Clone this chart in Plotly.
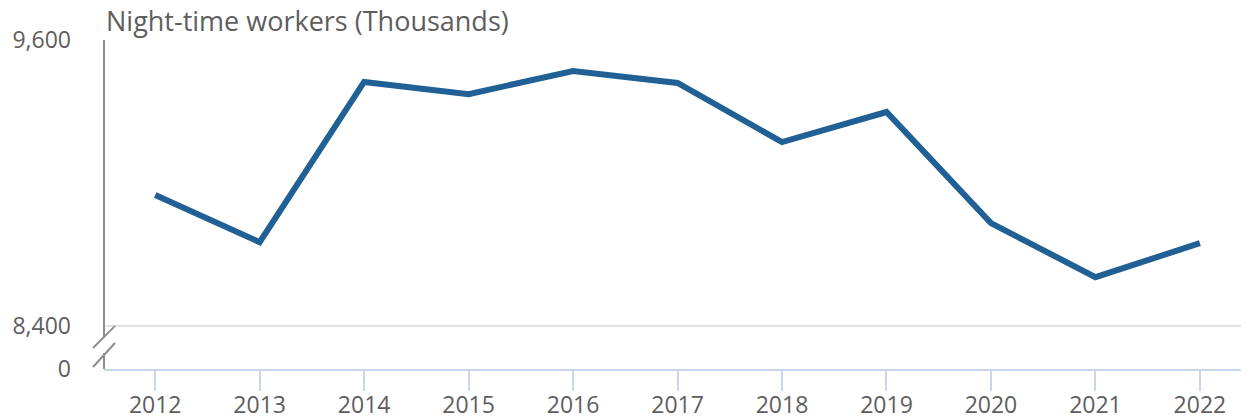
import plotly.graph_objects as go

# Night-time workers, thousands
years = [2012, 2013, 2014, 2015, 2016, 2017, 2018, 2019, 2020, 2021, 2022]
workers = [8950, 8752, 9424, 9373, 9470, 9420, 9172, 9298, 8832, 8605, 8748]

y_tickvals = [8220, 8400, 9600]
y_ticktext = ["0", "8,400", "9,600"]

TEXT = "#5e5e5e"
AXIS_GREY = "#8e8e8e"
AXIS_BLUE = "#c8d5ec"
LINE_BLUE = "#206095"

fig = go.Figure()
fig.add_trace(go.Scatter(x=years, y=workers, mode="lines",
                         line=dict(color=LINE_BLUE, width=6),
                         hovertemplate="%{x}: %{y:,}<extra></extra>"))

# broken y axis drawn by hand (paper coords)
axis_shapes = [
    dict(x0=0, x1=0, y0=0.094, y1=1),
    dict(x0=0, x1=0, y0=0, y1=0.049),
    dict(x0=-0.0096, x1=0.0096, y0=0.064, y1=0.131),
    dict(x0=-0.0096, x1=0.0096, y0=0.006, y1=0.079),
]
for s in axis_shapes:
    fig.add_shape(type="line", xref="paper", yref="paper",
                  line=dict(color=AXIS_GREY, width=2), **s)

fig.add_annotation(text="Night-time workers (Thousands)", xref="paper", yref="paper",
                   x=0, y=1, xanchor="left", yanchor="bottom", xshift=1, yshift=0,
                   borderpad=0, showarrow=False, font=dict(size=27, color=TEXT))

# page body has an 8px margin, so the figure is sized to fill the rest
fig.update_layout(
    width=1241, height=411,
    margin=dict(l=96, r=0, t=32, b=50),
    paper_bgcolor="white", plot_bgcolor="white",
    font=dict(family="Open Sans", color=TEXT, size=23),
    showlegend=False,
)
fig.update_xaxes(range=[2011.51, 2022.47], tickvals=years,
                 showgrid=False, zeroline=False, automargin=False,
                 showline=True, linecolor=AXIS_BLUE, linewidth=2,
                 ticks="outside", ticklen=20, tickwidth=2, tickcolor=AXIS_BLUE,
                 ticklabelstandoff=-6,
                 tickfont=dict(size=23, color=TEXT))
fig.update_yaxes(range=[8220, 9600], tickvals=y_tickvals, ticktext=y_ticktext,
                 showgrid=True, gridcolor="#e3e3e3", gridwidth=2, zeroline=False,
                 automargin=False,
                 showline=False, ticks="", ticklabelstandoff=32,
                 tickfont=dict(size=23, color=TEXT))

fig.write_html("out.html")
